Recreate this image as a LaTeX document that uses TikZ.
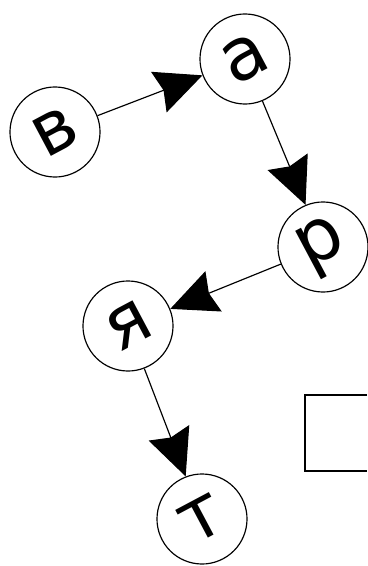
\documentclass[tikz,border=0pt]{standalone}
\usepackage{fontspec}
\setmainfont{DejaVu Sans}
\usetikzlibrary{arrows.meta}

\tikzset{
	letter/.style={draw, circle, line width=1pt, minimum size=2.7cm, inner sep=0pt, rotate=28, font=\fontsize{62}{62}\selectfont},
	pfeil/.style={line width=1pt, -{Stealth[length=1.4cm, width=1.3cm, inset=0.15cm]}}
}

\begin{document}
\begin{tikzpicture}[x=0.03cm, y=-0.03cm]

%Rahmen
\useasboundingbox (0,0) rectangle (367,566);

%Buchstaben
\node[letter] (v) at (55,132) {в};
\node[letter] (a) at (245,59) {а};
\node[letter] (r) at (323,247) {р};
\node[letter] (ja) at (128,326) {я};
\node[letter] (t) at (202,519) {т};

%Pfeile
\draw[pfeil] (v) -- (a);
\draw[pfeil] (a) -- (r);
\draw[pfeil] (r) -- (ja);
\draw[pfeil] (ja) -- (t);

%Kasten rechts
\draw[line width=2.2pt] (367,395) -- (305,395) -- (305,471) -- (367,471);

\end{tikzpicture}
\end{document}
